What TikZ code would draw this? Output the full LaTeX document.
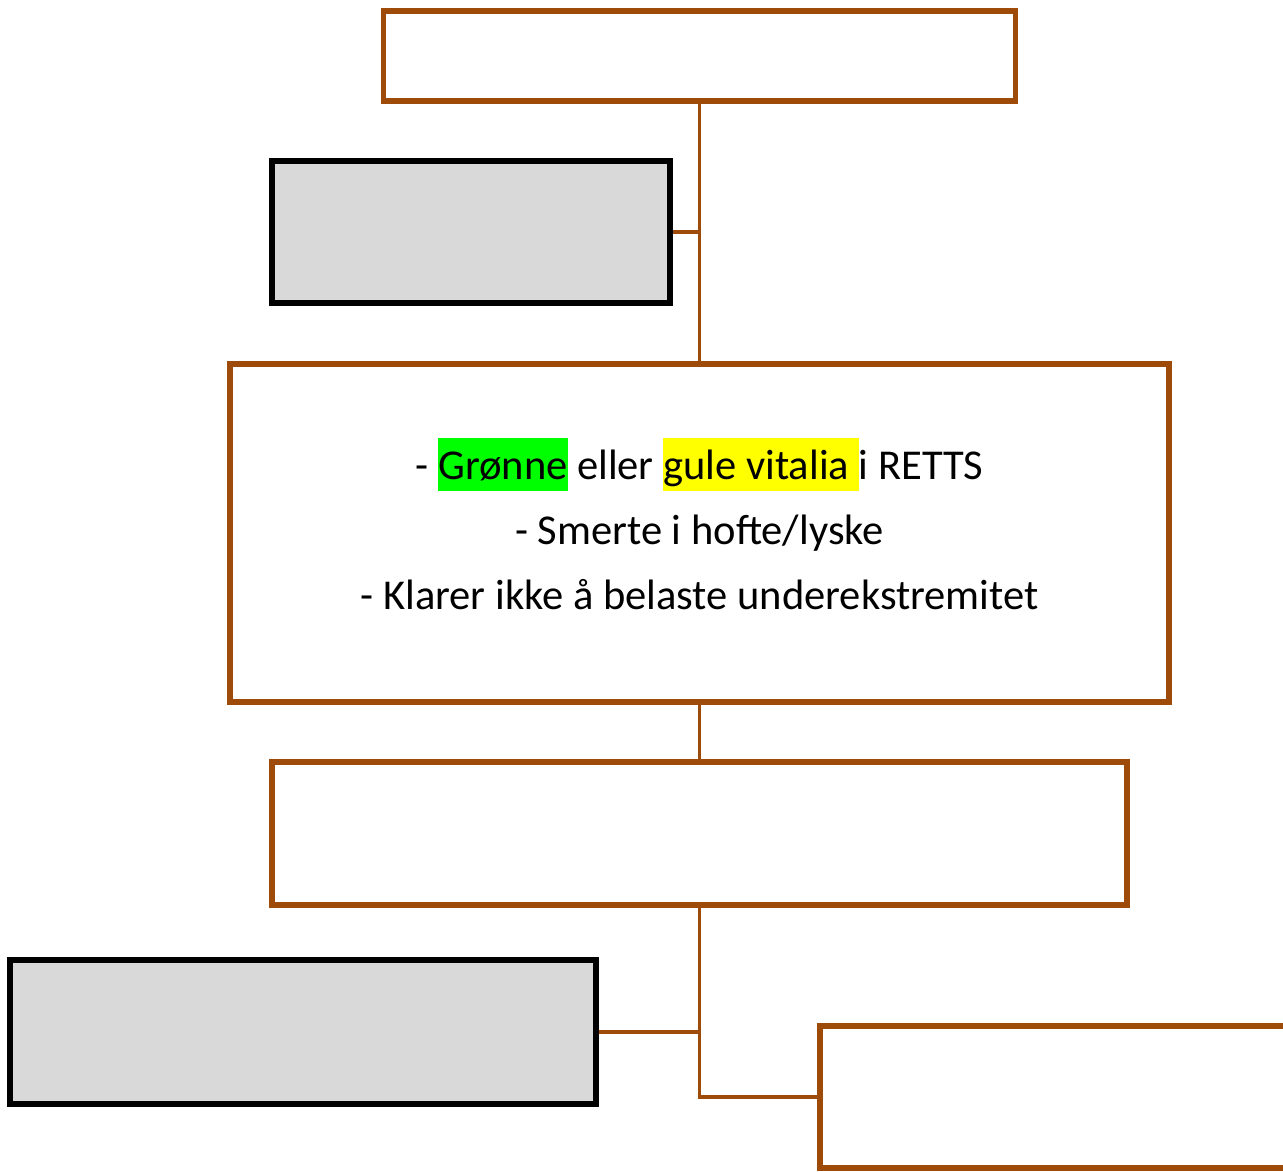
\documentclass[tikz,border=0pt]{standalone}
\usepackage{fontspec}
\setmainfont{Carlito}
\usepackage{xcolor}
\usetikzlibrary{positioning}

\definecolor{rust}{RGB}{158,75,10}
\definecolor{boxgray}{RGB}{217,217,217}
\definecolor{hlgreen}{RGB}{0,255,0}
\definecolor{hlyellow}{RGB}{255,255,0}

\newcommand{\hilite}[2]{{\setlength{\fboxsep}{0pt}\colorbox{#1}{\rule[-0.26em]{0pt}{1.24em}#2}}}

\begin{document}
\begin{tikzpicture}[x=0.02cm,y=-0.02cm,
		flowbox/.style={draw=rust,line width=2.9pt,fill=white,inner sep=0pt},
		sidebox/.style={draw=black,line width=2.9pt,fill=boxgray,inner sep=0pt},
		link/.style={draw=rust,line width=1.8pt}]
	\useasboundingbox (0,0) rectangle (1283,1171);
	\clip (0,0) rectangle (1283,1171);
	% boxes
	\node[flowbox,minimum width=632*0.02cm,minimum height=90*0.02cm] (top) at (699.5,56) {};
	\node[sidebox,minimum width=398*0.02cm,minimum height=142*0.02cm] (info) at (471,232) {};
	\node[flowbox,minimum width=939*0.02cm,minimum height=338*0.02cm] (crit) at (699.5,533) {};
	\node[align=center,font=\fontsize{24.2}{37}\selectfont,inner sep=0pt] (critText) at (699.5,524)
		{- \hilite{hlgreen}{Grønne} eller \hilite{hlyellow}{gule vitalia }i RETTS\\
		 - Smerte i hofte/lyske\\
		 - Klarer ikke å belaste underekstremitet};
	\node[flowbox,minimum width=855*0.02cm,minimum height=143*0.02cm] (exam) at (699.5,833.5) {};
	\node[sidebox,minimum width=586*0.02cm,minimum height=144*0.02cm] (note) at (303,1032) {};
	\node[flowbox,minimum width=640*0.02cm,minimum height=142*0.02cm] (next) at (1140,1097) {};
	% connectors
	\draw[link] (top.south) -- (crit.north);
	\draw[link] (info.east) -- (info.east -| top.south);
	\draw[link] (crit.south) -- (exam.north);
	\draw[link] (exam.south) |- (next.west);
	\draw[link] (note.east) -- (note.east -| exam.south);
\end{tikzpicture}
\end{document}
